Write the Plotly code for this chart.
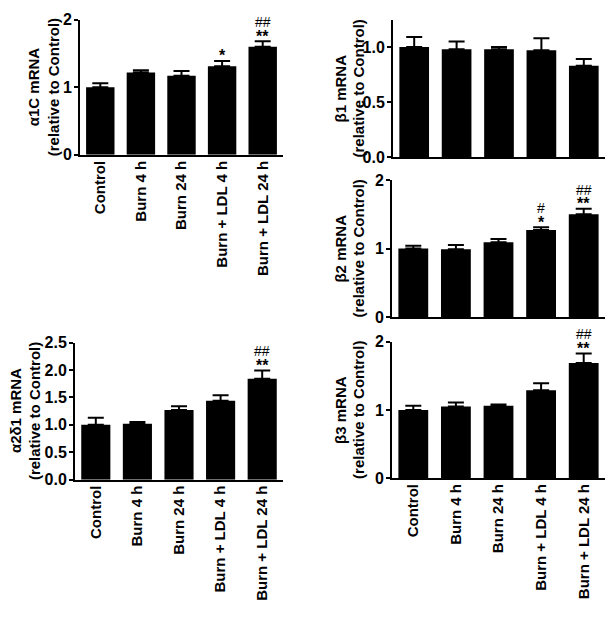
import plotly.graph_objects as go

categories = ["Control", "Burn 4 h", "Burn 24 h", "Burn + LDL 4 h", "Burn + LDL 24 h"]

a1c_mean = [1.00, 1.22, 1.17, 1.31, 1.60]
a1c_sem = [0.06, 0.03, 0.07, 0.08, 0.08]

b1_mean = [1.00, 0.98, 0.98, 0.97, 0.83]
b1_sem = [0.09, 0.07, 0.02, 0.11, 0.06]

b2_mean = [1.00, 0.99, 1.09, 1.27, 1.50]
b2_sem = [0.04, 0.06, 0.05, 0.04, 0.08]

a2d1_mean = [1.00, 1.02, 1.27, 1.44, 1.84]
a2d1_sem = [0.13, 0.03, 0.07, 0.10, 0.15]

b3_mean = [1.00, 1.05, 1.06, 1.29, 1.69]
b3_sem = [0.06, 0.06, 0.02, 0.10, 0.14]

# significance marks: (category index, [lines from bottom to top])
a1c_sig = [(3, ["*"]), (4, ["**", "##"])]
b1_sig = []
b2_sig = [(3, ["*", "#"]), (4, ["**", "##"])]
a2d1_sig = [(4, ["**", "##"])]
b3_sig = [(4, ["**", "##"])]

W, H = 613, 617
FONT = "Liberation Sans, Arial, sans-serif"

panels = [
    dict(mean=a1c_mean, sem=a1c_sem, sig=a1c_sig, title="α1C mRNA",
         xpx=(80, 283), ypx=(12, 151), yr=[0, 2], dt=1, fmt="", showx=True, tx=(33, 53)),
    dict(mean=b1_mean, sem=b1_sem, sig=b1_sig, title="β1 mRNA",
         xpx=(393, 605), ypx=(12.3, 153.3), yr=[0, 1.245], dt=0.5, fmt=".1f", showx=False, tx=(341, 359)),
    dict(mean=b2_mean, sem=b2_sem, sig=b2_sig, title="β2 mRNA",
         xpx=(392, 605), ypx=(177, 317.7), yr=[0, 2], dt=1, fmt="", showx=False, tx=(341, 359)),
    dict(mean=a2d1_mean, sem=a2d1_sem, sig=a2d1_sig, title="α2δ1 mRNA",
         xpx=(75, 283), ypx=(344, 485), yr=[0, 2.5], dt=0.5, fmt=".1f", showx=True, tx=(15, 34)),
    dict(mean=b3_mean, sem=b3_sem, sig=b3_sig, title="β3 mRNA",
         xpx=(392, 605), ypx=(343.3, 483.3), yr=[0, 2], dt=1, fmt="", showx=True, tx=(341, 359)),
]

fig = go.Figure()
annotations = []
layout = {}

for i, p in enumerate(panels, start=1):
    xa = "x" if i == 1 else f"x{i}"
    ya = "y" if i == 1 else f"y{i}"
    xkey = "xaxis" if i == 1 else f"xaxis{i}"
    ykey = "yaxis" if i == 1 else f"yaxis{i}"
    fig.add_trace(go.Bar(
        x=categories, y=p["mean"], xaxis=xa, yaxis=ya,
        marker=dict(color="black", line=dict(width=0)),
        error_y=dict(type="data", symmetric=False, array=p["sem"],
                     arrayminus=[0] * len(p["sem"]), color="black",
                     thickness=2, width=8),
        showlegend=False, hoverinfo="skip",
    ))
    x0, x1 = p["xpx"][0] / W, p["xpx"][1] / W
    ytop, ybot = 1 - p["ypx"][0] / H, 1 - p["ypx"][1] / H
    layout[xkey] = dict(
        domain=[x0, x1], anchor=ya, range=[-0.5, 4.5],
        showline=True, linecolor="black", linewidth=2,
        ticks="", showticklabels=p["showx"], tickangle=-90,
        ticklabelstandoff=-2,
        tickfont=dict(family=FONT, size=15, color="black", weight="bold"),
        showgrid=False, zeroline=False, fixedrange=True,
    )
    layout[ykey] = dict(
        domain=[ybot, ytop], anchor=xa, range=p["yr"],
        showline=True, linecolor="black", linewidth=2,
        ticks="outside", ticklen=4, tickwidth=2, tickcolor="black",
        ticklabelstandoff=-1,
        dtick=p["dt"], tick0=0, tickformat=p["fmt"],
        tickfont=dict(family=FONT, size=16, color="black", weight="bold"),
        showgrid=False, zeroline=False, fixedrange=True,
    )
    ymid = (ytop + ybot) / 2
    for line_txt, xc in zip([p["title"], "(relative to Control)"], p["tx"]):
        annotations.append(dict(
            text=line_txt, xref="paper", yref="paper", x=xc / W, y=ymid,
            xanchor="center", yanchor="middle", textangle=-90, showarrow=False,
            font=dict(family=FONT, size=15, color="black", weight="bold"),
        ))
    for idx, lines in p["sig"]:
        top = p["mean"][idx] + p["sem"][idx]
        for k, s in enumerate(lines):
            star = s.startswith("*")
            annotations.append(dict(
                text=s, xref=xa, yref=ya, x=categories[idx], y=top,
                xanchor="center", yanchor="middle", showarrow=False,
                yshift=(5 if star else 8) + 11 * k,
                font=dict(family=FONT, size=16 if star else 14, color="black",
                          weight="bold" if star else "normal"),
            ))

fig.update_layout(
    width=W, height=H, margin=dict(l=0, r=0, t=0, b=0),
    paper_bgcolor="white", plot_bgcolor="white",
    bargap=0.3, showlegend=False, annotations=annotations,
    **layout,
)

fig.write_html("out.html", config={"displayModeBar": False},
               post_script="document.body.style.margin='0';")
